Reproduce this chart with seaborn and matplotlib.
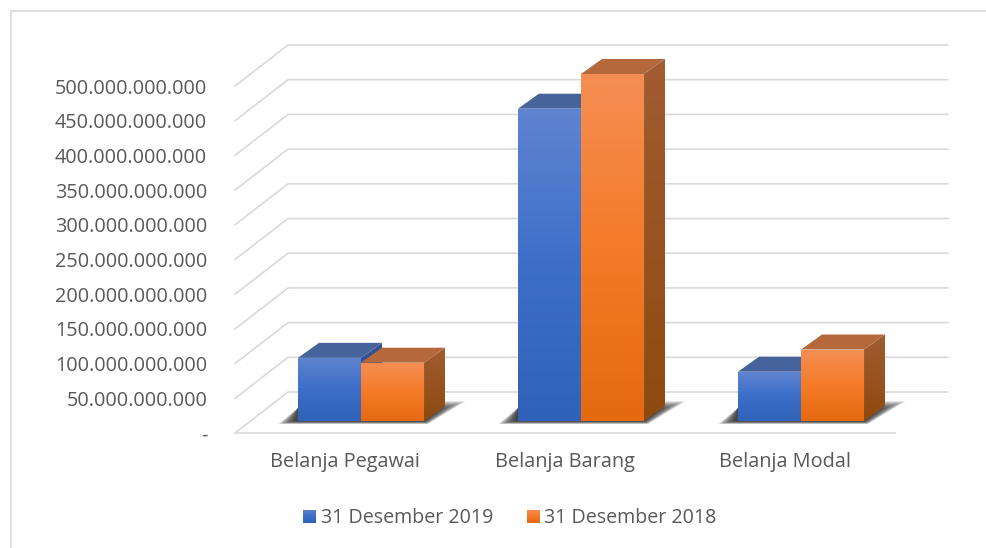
import numpy as np
import pandas as pd
import matplotlib
matplotlib.use("Agg")
import matplotlib.pyplot as plt
import seaborn as sns
from matplotlib.colors import LinearSegmentedColormap
from matplotlib.patches import Polygon
from matplotlib.transforms import IdentityTransform

# Data
categories = ["Belanja Pegawai", "Belanja Barang", "Belanja Modal"]
values_2019 = [91e9, 450e9, 71e9]
values_2018 = [84e9, 500e9, 103e9]
series_names = ["31 Desember 2019", "31 Desember 2018"]
y_ticks = [0, 50e9, 100e9, 150e9, 200e9, 250e9, 300e9, 350e9, 400e9, 450e9, 500e9]
y_labels = ["-", "50.000.000.000", "100.000.000.000", "150.000.000.000", "200.000.000.000",
            "250.000.000.000", "300.000.000.000", "350.000.000.000", "400.000.000.000",
            "450.000.000.000", "500.000.000.000"]

W, H = 987, 548
GRID = "#d9d9d9"
TEXT = "#595959"

sns.set_theme(style="white")
plt.rcParams['font.family'] = ['Open Sans', 'DejaVu Sans']

df = pd.DataFrame({
    "kategori": categories * 2,
    "nilai": values_2019 + values_2018,
    "periode": [series_names[0]] * 3 + [series_names[1]] * 3,
})

fig = plt.figure(figsize=(W / 100, H / 100), dpi=100, facecolor="white")


def axes_box(left, top, right, bottom):
    return [left / W, 1 - bottom / H, (right - left) / W, (bottom - top) / H]


# floor and wall axes
ax = fig.add_axes(axes_box(235, 86, 895, 433))
# bars sit on a plane shifted up and right inside the 3D box
ax2 = fig.add_axes(axes_box(251, 74, 911, 421))
ax2.patch.set_alpha(0)

sns.barplot(data=df, x="kategori", y="nilai", hue="periode", ax=ax2, width=0.573, gap=0,
            palette=["#3d6fc9", "#f47b28"], saturation=1, legend=True, errorbar=None)
ax2.set_xlim(-0.5, 2.5)
ax2.set_ylim(0, 500e9)
ax2.set_axis_off()
legend_handles, legend_labels = ax2.get_legend_handles_labels()
ax2.get_legend().remove()

ax.set_xlim(-0.5, 2.5)
ax.set_ylim(0, 500e9)
ax.set_xticks(range(3))
ax.set_xticklabels(categories)
ax.set_yticks(y_ticks)
ax.set_yticklabels(y_labels)
ax.tick_params(axis="y", length=0, pad=20, labelsize=14.3, labelcolor=TEXT)
ax.tick_params(axis="x", length=0, pad=14, labelsize=14.3, labelcolor=TEXT)
ax.patch.set_alpha(0)
for side in ["top", "right", "left"]:
    ax.spines[side].set_visible(False)
ax.spines["bottom"].set_color(GRID)
ax.spines["bottom"].set_linewidth(1.2)

# wall gridlines
ident = IdentityTransform()
for tick in y_ticks:
    x0, y0 = ax.transData.transform((-0.5, tick))
    fig.add_artist(plt.Line2D([x0, x0 + 53, 948], [y0, y0 + 41, y0 + 41], transform=ident,
                              color=GRID, lw=1.2, zorder=0.5))

# chart frame
fig.add_artist(plt.Line2D([11, 11, W], [0, H - 11, H - 11], transform=ident, color=GRID, lw=1.2))

ax2.set_zorder(3)
ax2.autoscale(False)
DX, DY = 21, 15
ramp = np.linspace(0, 1, 128).reshape(-1, 1)


def gradient(colors, pts, z):
    # polygon in display coordinates filled with a vertical gradient
    pts = np.array(pts, dtype=float)
    cmap = LinearSegmentedColormap.from_list("g", colors)
    im = ax2.imshow(ramp, cmap=cmap, aspect="auto", origin="upper", transform=ident, zorder=z,
                    extent=(pts[:, 0].min(), pts[:, 0].max(), pts[:, 1].min(), pts[:, 1].max()))
    im.set_clip_box(fig.bbox)
    im.set_clip_path(Polygon(pts, closed=True, transform=ident))


front_cols = [["#5f84d0", "#3d6fc9", "#2f62b8"], ["#f58e54", "#f47b28", "#e5690f"]]
top_cols = ["#46639b", "#b5683c"]
side_cols = [["#3a5590", "#25478a"], ["#a15c31", "#8f4a10"]]

# soft shadows first
for k in range(3):
    x0 = ax2.containers[0][k].get_window_extent().x0
    x1 = ax2.containers[1][k].get_window_extent().x1
    y0 = ax2.transData.transform((0, 0))[1]
    for f in np.linspace(0, 1, 24):
        ax2.add_patch(Polygon([(x0 - 20 + 18 * f, y0 - 3 + 3 * f), (x1 + 4 - 4 * f, y0 - 3 + 3 * f),
                               (x1 + 42 - 30 * f, y0 + 20 - 10 * f), (x1, y0 + 20 - 10 * f),
                               (x0, y0 + 13)],
                              closed=True, transform=ident, facecolor="#2a2a2a", edgecolor="none",
                              alpha=0.075, zorder=1, clip_on=False))

fig.canvas.draw()
for s, bars in enumerate(ax2.containers):
    for k, bar in enumerate(bars):
        box = bar.get_window_extent()
        z = 4 + s + k * 3
        l, r, b, t = box.x0, box.x1, box.y0, box.y1
        gradient(side_cols[s], [(r, b), (r + DX, b + DY), (r + DX, t + DY), (r, t)], z)
        ax2.add_patch(Polygon([(l, t), (r, t), (r + DX, t + DY), (l + DX, t + DY)], closed=True,
                              transform=ident, facecolor=top_cols[s], edgecolor="none", zorder=z + 0.1,
                              clip_on=False))
        gradient(front_cols[s], [(l, b), (r, b), (r, t), (l, t)], z + 0.2)

leg = fig.legend(legend_handles, legend_labels, loc="center", bbox_to_anchor=(510 / W, 1 - 518 / H),
                 ncols=2, frameon=False, fontsize=14.1, labelcolor=TEXT, handlelength=0.66,
                 handleheight=0.66, handletextpad=0.25, columnspacing=1.7)
leg.set_zorder(1)
fig.canvas.draw()
for s, patch in enumerate(leg.get_patches()):
    box = patch.get_window_extent()
    gradient(front_cols[s], [(box.x0, box.y0), (box.x1, box.y0), (box.x1, box.y1), (box.x0, box.y1)], 20)

fig.savefig("out.png", dpi=100, facecolor="white")
